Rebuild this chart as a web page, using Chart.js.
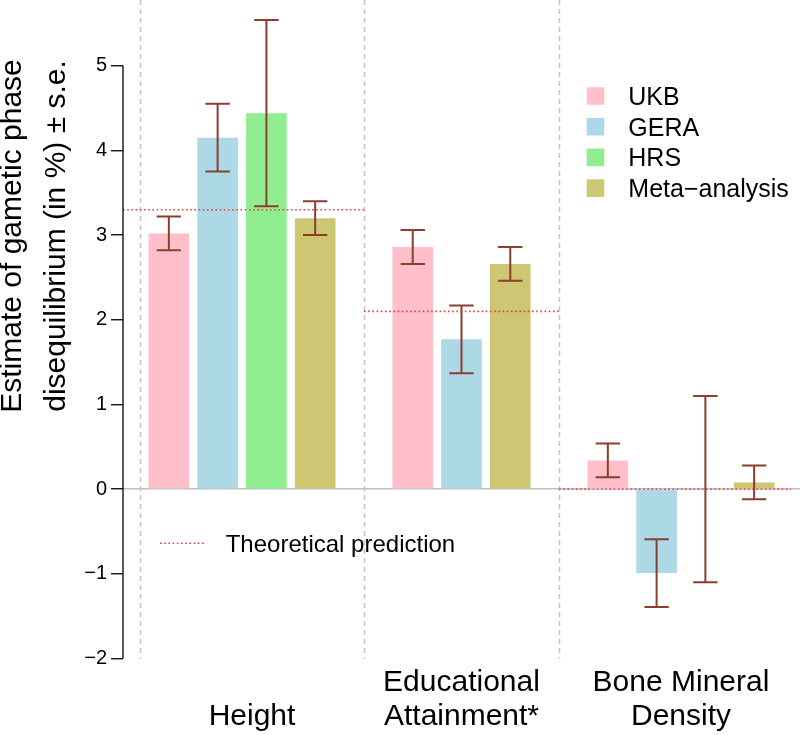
<!DOCTYPE html>
<html>
<head>
<meta charset="utf-8">
<script src="https://cdn.jsdelivr.net/npm/chart.js@4.4.0/dist/chart.umd.min.js"></script>
<style>
body{margin:0;background:#fff;}
</style>
</head>
<body>
<canvas id="grafik" width="800" height="735"></canvas>
<script>
// =========================
// DATA
// =========================

let traits = [["Height"], ["Educational","Attainment*"], ["Bone Mineral","Density"]];
let cohorts = ["UKB","GERA","HRS","Meta\u2212analysis"];

let ukb    = [3.02, 2.86, 0.34];
let ukbSe  = [0.2, 0.2, 0.2];
let gera   = [4.15, 1.77, -0.99];
let geraSe = [0.4, 0.4, 0.4];
let hrs    = [4.44, null, 0];
let hrsSe  = [1.1, null, 1.1];
let meta   = [3.2, 2.66, 0.08];
let metaSe = [0.2, 0.2, 0.2];

let theory = [3.3, 2.1, 0];   // theoretical prediction per trait
let yTicks = [-2,-1,0,1,2,3,4,5];

let yTitle = ["Estimate of gametic phase", "disequilibrium (in %) \u00b1 s.e."];
let theoryLabel = "Theoretical prediction";


// =========================
// LAYOUT (slot units on x axis)
// =========================

let groupStart = [0, 5, 9];
let groupEdge = [-0.59, 4, 8, 13];
let theoryEnd = 12.75;
let xMin = -0.94, xMax = 12.94;
let yMin = -2, yMax = 5.776;

let colors = ["#FFC0CB","#ADD8E6","#90EE90","#CDC673"];
let errColor = "#8B3E2F";
let fontFam = '"Liberation Sans", Arial, Helvetica, sans-serif';

Chart.defaults.font.family = fontFam;
Chart.defaults.color = "#000";


// build bar points: one slot per available value, per group
let values = [ukb, gera, hrs, meta];
let errors = [ukbSe, geraSe, hrsSe, metaSe];
let points = cohorts.map(function(){ return []; });

traits.forEach(function(t, g){
let slot = groupStart[g];
values.forEach(function(vals, s){
if(vals[g] === null) return;
points[s].push({x:slot, y:vals[g], se:errors[s][g]});
slot++;
});
});

// theoretical prediction segments
let theoryPts = [];
theory.forEach(function(v, g){
let a = g === 0 ? xMin : groupEdge[g];
let b = g === theory.length-1 ? theoryEnd : groupEdge[g+1];
theoryPts.push({x:a, y:v}, {x:b, y:v});
if(g < theory.length-1) theoryPts.push({x:b, y:null});
});

let labelPos = traits.map(function(t, g){
return (groupEdge[g] + groupEdge[g+1]) / 2;
});

let datasets = cohorts.map(function(name, s){
return {
type:'bar',
label:name,
data:points[s],
backgroundColor:colors[s],
borderWidth:0,
grouped:false,
categoryPercentage:1,
barPercentage:1/1.2,
order:2
};
});

datasets.push({
type:'line',
label:theoryLabel,
data:theoryPts,
borderColor:'#f03c3c',
borderWidth:1.6,
borderDash:[1.6, 2.6],
pointRadius:0,
spanGaps:false,
order:0
});


// =========================
// PLUGINS
// =========================

let separators = {
id:'separators',
beforeDatasetsDraw:function(chart){
let c = chart.ctx, x = chart.scales.x, y = chart.scales.y;
c.save();
c.strokeStyle = '#c4c4c4';
c.lineWidth = 1.5;
c.setLineDash([5, 4]);
groupEdge.forEach(function(e){
let px = Math.round(x.getPixelForValue(e)) + 0.5;
if(px > chart.chartArea.right) return;
c.beginPath();
c.moveTo(px, chart.chartArea.top);
c.lineTo(px, y.getPixelForValue(yMin));
c.stroke();
});
c.restore();
}
};

let errorBars = {
id:'errorBars',
afterDatasetsDraw:function(chart){
let c = chart.ctx, y = chart.scales.y;
c.save();
c.strokeStyle = errColor;
c.lineWidth = 2;
chart.data.datasets.forEach(function(ds, i){
if(ds.type !== 'bar') return;
let meta = chart.getDatasetMeta(i);
meta.data.forEach(function(bar, j){
let p = ds.data[j];
let top = y.getPixelForValue(p.y + p.se);
let bot = y.getPixelForValue(p.y - p.se);
let half = bar.width * 0.3;
c.beginPath();
c.moveTo(bar.x, top); c.lineTo(bar.x, bot);
c.moveTo(bar.x - half, top); c.lineTo(bar.x + half, top);
c.moveTo(bar.x - half, bot); c.lineTo(bar.x + half, bot);
c.stroke();
});
});
c.restore();
}
};

let extras = {
id:'extras',
afterDraw:function(chart){
let c = chart.ctx, y = chart.scales.y, area = chart.chartArea;
c.save();

// y axis line (only over tick range)
c.strokeStyle = '#000';
c.lineWidth = 1.3;
c.beginPath();
c.moveTo(area.left, y.getPixelForValue(yTicks[0]));
c.lineTo(area.left, y.getPixelForValue(yTicks[yTicks.length-1]));
c.stroke();

// cohort legend
c.font = '25px ' + fontFam;
c.textAlign = 'left';
c.textBaseline = 'alphabetic';
cohorts.forEach(function(name, i){
let cy = 96 + 30.7 * i;
c.fillStyle = colors[i];
c.fillRect(586.7, cy - 8.8, 17.6, 17.6);
c.fillStyle = '#000';
c.fillText(name, 628.3, cy + 9);
});

// theoretical prediction legend
c.strokeStyle = '#f03c3c';
c.lineWidth = 1.6;
c.setLineDash([1.6, 2.6]);
c.beginPath();
c.moveTo(160, 543.3); c.lineTo(204, 543.3);
c.stroke();
c.setLineDash([]);
c.font = '24px ' + fontFam;
c.fillStyle = '#000';
c.fillText(theoryLabel, 225.7, 552.3);

// y title, two rotated lines
c.font = '30px ' + fontFam;
c.textAlign = 'center';
c.translate(21, 236);
c.rotate(-Math.PI / 2);
c.fillText(yTitle[0], 0, 0);
c.fillText(yTitle[1], 0, 44);

c.restore();
}
};


// =========================
// GRAFIK
// =========================

new Chart(document.getElementById('grafik'), {
type:'bar',
data:{datasets:datasets},
options:{
responsive:false,
animation:false,
devicePixelRatio:1,
layout:{padding:0},
plugins:{legend:{display:false}, tooltip:{enabled:false}},
scales:{
x:{
type:'linear',
min:xMin,
max:xMax,
offset:false,
grid:{display:false},
border:{display:false},
afterBuildTicks:function(s){
s.ticks = labelPos.map(function(v){ return {value:v}; });
},
ticks:{
autoSkip:false,
maxRotation:0,
crossAlign:'far',
padding:16,
font:{size:30, lineHeight:1.14},
callback:function(v, i){ return traits[i]; }
},
afterFit:function(s){
s.height = 76.4;
s.paddingLeft = 0; s.paddingRight = 0;
}
},
y:{
min:yMin,
max:yMax,
afterBuildTicks:function(s){
s.ticks = yTicks.map(function(v){ return {value:v}; });
},
ticks:{
padding:4,
font:{size:20},
callback:function(v){ return v < 0 ? '\u2212' + Math.abs(v) : String(v); }
},
grid:{
drawOnChartArea:true,
color:function(ctx){ return ctx.tick && ctx.tick.value === 0 ? '#bebebe' : 'rgba(0,0,0,0)'; },
lineWidth:1.5,
tickColor:'#000',
tickWidth:1.3,
tickLength:12
},
border:{display:false},
afterFit:function(s){
s.width = 123;
s.paddingTop = 0; s.paddingBottom = 0;
}
}
}
},
plugins:[separators, errorBars, extras]
});
</script>
</body>
</html>
